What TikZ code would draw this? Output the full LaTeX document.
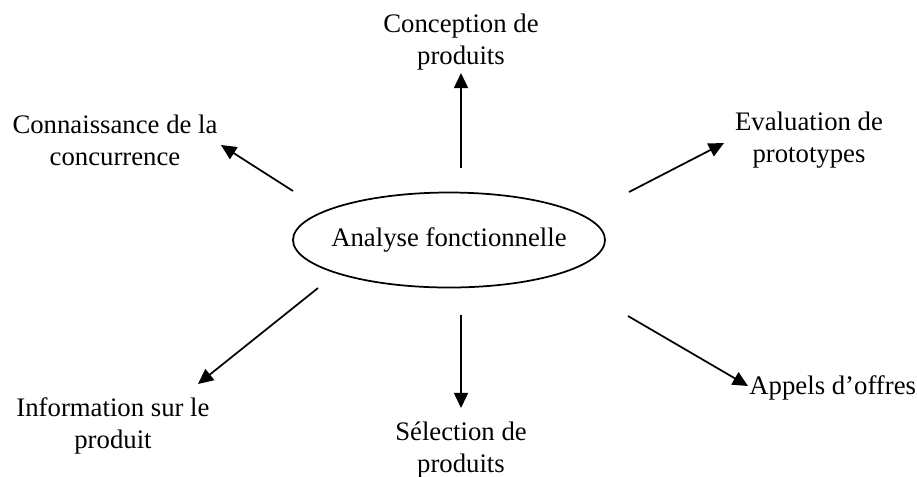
\documentclass[tikz,border=0pt]{standalone}
\usepackage{fontspec}
\setmainfont{Liberation Serif}
\usepackage{tikz}
\usetikzlibrary{arrows.meta, positioning, shapes.geometric}

\tikzset{
  lbl/.style={align=center, inner sep=0pt, font=\fontsize{12.3}{14.7}\selectfont},
  fleche/.style={-{Triangle[length=7pt, width=6.5pt]}, line width=0.8pt}
}

\begin{document}
\begin{tikzpicture}[x=0.46pt, y=-0.46pt]
    % Cadre de l'image
    \useasboundingbox (0, 0) rectangle (917, 476);

    % Ellipse centrale
    \node[lbl] (af) at (449, 240) {Analyse fonctionnelle};
    \draw[line width=0.8pt] (af.center) ellipse [x radius=156, y radius=47.5];

    % Les six usages autour
    \node[lbl] (conception) at (461, 42) {Conception de\\produits};
    \node[lbl] (concurrence) at (115, 140) {Connaissance de la\\concurrence};
    \node[lbl] (evaluation) at (809, 140) {Evaluation de\\prototypes};
    \node[lbl] (information) at (113, 426) {Information sur le\\produit};
    \node[lbl] (selection) at (461, 450) {S\'election de\\produits};
    \node[lbl, anchor=west] (appels) at (749, 388) {Appels d'offres};

    % Extremites des fleches
    \coordinate (nw-a) at (293, 191);
    \coordinate (nw-b) at (221, 145);
    \coordinate (n-a) at (461, 168);
    \coordinate (n-b) at (461, 73);
    \coordinate (ne-a) at (629, 192);
    \coordinate (ne-b) at (724, 143);
    \coordinate (sw-a) at (318, 288);
    \coordinate (sw-b) at (198, 384);
    \coordinate (s-a) at (461, 315);
    \coordinate (s-b) at (461, 408);
    \coordinate (se-a) at (628, 316);
    \coordinate (se-b) at (748, 386);

    % Fleches
    \draw[fleche] (nw-a) -- (nw-b);
    \draw[fleche] (n-a) -- (n-b);
    \draw[fleche] (ne-a) -- (ne-b);
    \draw[fleche] (sw-a) -- (sw-b);
    \draw[fleche] (s-a) -- (s-b);
    \draw[fleche] (se-a) -- (se-b);

\end{tikzpicture}
\end{document}
